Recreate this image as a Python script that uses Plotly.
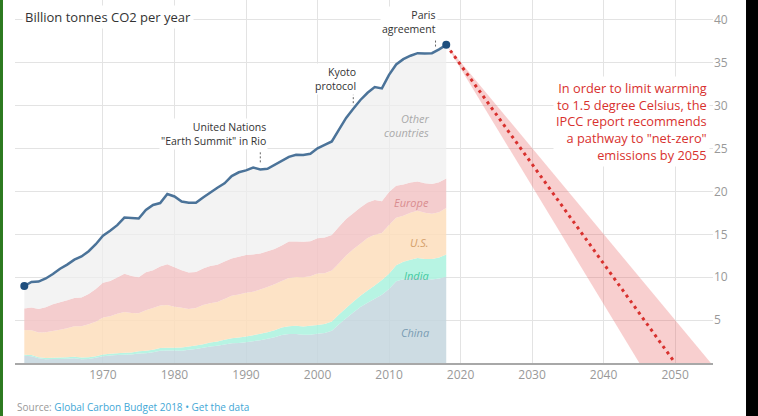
import plotly.graph_objects as go

years = list(range(1959, 2019))

total = [8.98, 9.45, 9.49, 9.86, 10.37, 10.99, 11.47, 12.05, 12.42, 13.04,
         13.85, 14.84, 15.42, 16.08, 16.96, 16.93, 16.85, 17.84, 18.43, 18.65,
         19.71, 19.42, 18.83, 18.69, 18.69, 19.31, 19.90, 20.44, 20.96, 21.80,
         22.24, 22.46, 22.79, 22.57, 22.64, 23.08, 23.52, 24.04, 24.29, 24.26,
         24.40, 25.03, 25.43, 25.83, 27.22, 28.58, 29.64, 30.67, 31.51, 32.17,
         32.02, 33.60, 34.81, 35.43, 35.83, 36.13, 36.09, 36.13, 36.57, 37.10]

china = [0.85, 0.80, 0.55, 0.45, 0.46, 0.47, 0.50, 0.55, 0.45, 0.48,
         0.60, 0.78, 0.87, 0.92, 0.96, 0.98, 1.10, 1.15, 1.26, 1.44,
         1.47, 1.46, 1.44, 1.55, 1.64, 1.77, 1.93, 2.02, 2.16, 2.30,
         2.34, 2.42, 2.55, 2.66, 2.84, 3.01, 3.26, 3.39, 3.38, 3.28,
         3.30, 3.40, 3.49, 3.76, 4.53, 5.23, 5.90, 6.53, 7.03, 7.49,
         7.97, 8.62, 9.53, 9.78, 9.96, 9.99, 9.85, 9.74, 9.86, 10.06]

india = [0.11, 0.12, 0.13, 0.14, 0.15, 0.16, 0.17, 0.18, 0.18, 0.19,
         0.20, 0.20, 0.21, 0.22, 0.23, 0.24, 0.26, 0.28, 0.29, 0.30,
         0.32, 0.33, 0.36, 0.38, 0.41, 0.43, 0.47, 0.50, 0.54, 0.58,
         0.62, 0.66, 0.70, 0.74, 0.76, 0.80, 0.88, 0.91, 0.95, 0.98,
         1.03, 1.03, 1.06, 1.08, 1.12, 1.19, 1.24, 1.32, 1.42, 1.56,
         1.71, 1.79, 1.86, 2.02, 2.07, 2.24, 2.28, 2.38, 2.45, 2.60]

us = [2.90, 2.90, 2.88, 3.00, 3.13, 3.25, 3.39, 3.55, 3.66, 3.84,
      4.02, 4.33, 4.37, 4.59, 4.77, 4.62, 4.44, 4.71, 4.86, 4.97,
      4.97, 4.78, 4.63, 4.37, 4.37, 4.56, 4.57, 4.58, 4.75, 4.95,
      5.03, 5.12, 5.06, 5.16, 5.27, 5.36, 5.42, 5.61, 5.69, 5.73,
      5.80, 6.01, 5.91, 5.94, 5.99, 6.11, 6.13, 6.05, 6.13, 5.91,
      5.48, 5.68, 5.56, 5.36, 5.48, 5.53, 5.38, 5.29, 5.27, 5.41]

europe = [2.50, 2.65, 2.75, 2.90, 3.10, 3.20, 3.25, 3.30, 3.35, 3.55,
          3.80, 4.05, 4.10, 4.25, 4.45, 4.30, 4.20, 4.45, 4.40, 4.55,
          4.75, 4.60, 4.40, 4.25, 4.20, 4.25, 4.35, 4.35, 4.40, 4.35,
          4.40, 4.40, 4.35, 4.20, 4.15, 4.12, 4.15, 4.25, 4.15, 4.15,
          4.08, 4.10, 4.18, 4.15, 4.25, 4.25, 4.20, 4.22, 4.15, 4.05,
          3.70, 3.85, 3.72, 3.65, 3.55, 3.40, 3.45, 3.45, 3.50, 3.45]

other = [round(t - c - i - u - e, 2) for t, c, i, u, e in zip(total, china, india, us, europe)]

proj_years = [2018, 2050]
proj_values = [37.1, 0]
band_years = [2018, 2045, 2055, 2018]
band_values = [37.1, 0, 0, 37.1]

x_ticks = [1970, 1980, 1990, 2000, 2010, 2020, 2030, 2040, 2050]
y_ticks = [5, 10, 15, 20, 25, 30, 35, 40]

events = [
    {"year": 1992, "y0": 23.4, "y1": 24.6, "label": "United Nations<br>\"Earth Summit\" in Rio", "tx": 1993.1, "ty": 26.65},
    {"year": 2005, "y0": 30.3, "y1": 31.3, "label": "Kyoto<br>protocol", "tx": 2005.7, "ty": 33.06},
    {"year": 2016.5, "y0": 36.9, "y1": 37.6, "label": "Paris<br>agreement", "tx": 2016.9, "ty": 39.8},
]

FONT = "Open Sans, Arial, sans-serif"

fig = go.Figure()

area_specs = [
    ("China", china, "rgba(196,214,222,0.85)"),
    ("India", india, "rgba(170,242,222,0.85)"),
    ("U.S.", us, "rgba(253,222,188,0.85)"),
    ("Europe", europe, "rgba(242,196,198,0.85)"),
    ("Other countries", other, "rgba(238,238,238,0.7)"),
]
for name, vals, col in area_specs:
    fig.add_trace(go.Scatter(x=years, y=vals, name=name, stackgroup="one",
                             mode="none", fillcolor=col, line=dict(width=0),
                             hoverinfo="skip"))

fig.add_trace(go.Scatter(x=band_years, y=band_values, fill="toself", mode="none",
                         fillcolor="rgba(232,96,96,0.3)", hoverinfo="skip"))

fig.add_trace(go.Scatter(x=proj_years, y=proj_values, mode="lines",
                         line=dict(color="#d8312e", width=3, dash="3px,4px"),
                         hoverinfo="skip"))

fig.add_trace(go.Scatter(x=years, y=total, mode="lines",
                         line=dict(color="#4b7399", width=2.5), hoverinfo="skip"))
fig.add_trace(go.Scatter(x=[years[0], years[-1]], y=[total[0], total[-1]], mode="markers",
                         marker=dict(color="#1f4f7e", size=8), hoverinfo="skip"))

annotations = []
shapes = []
for ev in events:
    shapes.append(dict(type="line", xref="x", yref="y", x0=ev["year"], x1=ev["year"],
                       y0=ev["y0"], y1=ev["y1"], line=dict(color="#666", width=1, dash="2px,2px")))
    annotations.append(dict(x=ev["tx"], y=ev["ty"], xref="x", yref="y", text=ev["label"],
                            showarrow=False, xanchor="right", yanchor="middle", align="right",
                            font=dict(size=10.5, color="#333", family=FONT),
                            bgcolor="white", borderpad=1))

annotations.append(dict(x=1958.7, y=40.3, xref="x", yref="y", text="Billion tonnes CO2 per year",
                        showarrow=False, xanchor="left", yanchor="middle",
                        font=dict(size=13, color="#333", family=FONT), bgcolor="white", borderpad=2))

annotations.append(dict(x=2054.9, y=28.16, xref="x", yref="y",
                        text="In order to limit warming<br>to 1.5 degree Celsius, the<br>IPCC report recommends<br>a pathway to \"net-zero\"<br>emissions by 2055",
                        showarrow=False, xanchor="right", yanchor="middle", align="right",
                        font=dict(size=12.8, color="#d8312e", family=FONT), bgcolor="white", borderpad=2))

area_labels = [
    ("Other<br>countries", 27.7, "#aaaaaa"),
    ("Europe", 18.66, "#d98c8f"),
    ("U.S.", 14.1, "#d4a06a"),
    ("India", 10.26, "#45c9a0"),
    ("China", 3.6, "#7b9cb3"),
]
for txt, yv, col in area_labels:
    annotations.append(dict(x=2015.9, y=yv, xref="x", yref="y", text="<i>" + txt + "</i>",
                            showarrow=False, xanchor="right", yanchor="middle", align="right",
                            font=dict(size=11, color=col, family=FONT)))

annotations.append(dict(x=0, y=-0.121, xref="paper", yref="paper",
                        text="Source: <span style=\"color:#3fa7d6\">Global Carbon Budget 2018 \u2022 Get the data</span>",
                        showarrow=False, xanchor="left", yanchor="middle",
                        font=dict(size=10, color="#999", family=FONT)))

# screenshot frame edges
shapes.append(dict(type="rect", xref="paper", yref="paper", x0=-0.0215, x1=-0.0172, y0=-0.146, y1=1.0,
                   fillcolor="#2d7a20", line=dict(width=0), layer="above"))
shapes.append(dict(type="rect", xref="paper", yref="paper", x0=1.0473, x1=1.07, y0=-0.146, y1=1.0,
                   fillcolor="#000000", line=dict(width=0), layer="above"))

fig.update_layout(
    width=758, height=416,
    margin=dict(l=15, r=45, t=0, b=53),
    paper_bgcolor="white", plot_bgcolor="white",
    showlegend=False,
    font=dict(family=FONT),
    xaxis=dict(range=[1957.7, 2055.3], tickvals=x_ticks, showgrid=True, gridcolor="#e3e3e3",
               gridwidth=1, zeroline=False, showline=True, linecolor="#a8a8a8", linewidth=2,
               ticks="", tickfont=dict(size=12, color="#999"), fixedrange=True),
    yaxis=dict(range=[0, 42.33], tickvals=y_ticks, side="right", showgrid=True,
               gridcolor="#e3e3e3", gridwidth=1, zeroline=False, showline=False, ticks="",
               tickfont=dict(size=12, color="#999"), fixedrange=True),
    annotations=annotations,
    shapes=shapes,
)

fig.write_html("out.html", config={"displayModeBar": False},
               post_script="document.body.style.margin='0';document.body.style.overflow='hidden';")
